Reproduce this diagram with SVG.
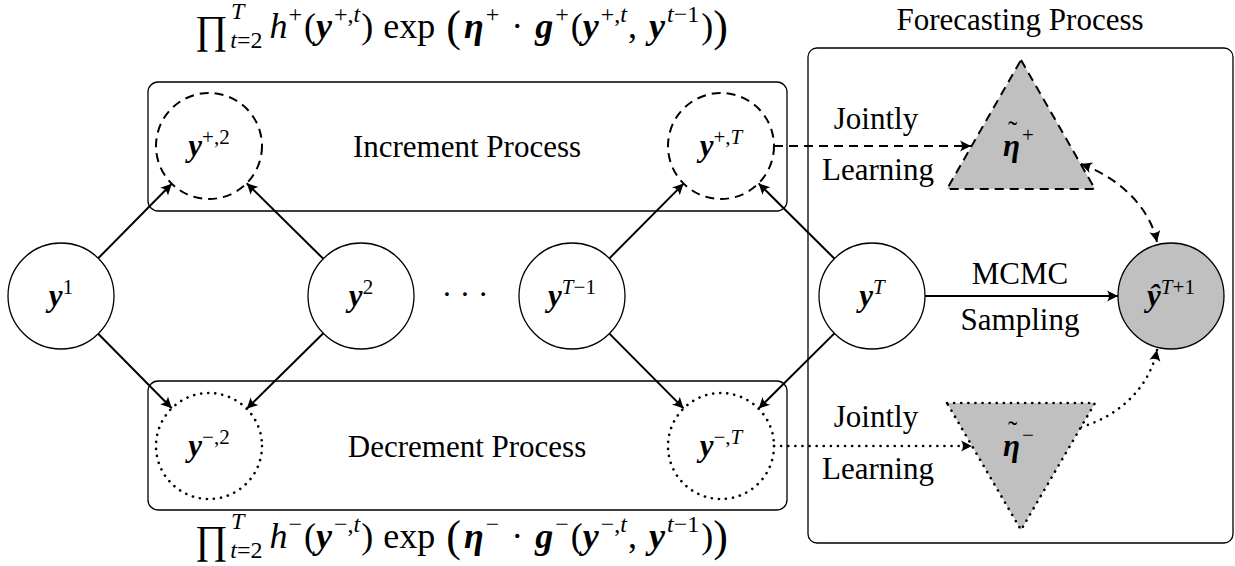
<svg xmlns="http://www.w3.org/2000/svg" width="1235" height="566" viewBox="0 0 1235 566">
<defs>
<style>
.t{font-family:"Liberation Serif","Times New Roman",serif;font-size:31px;fill:#000}
.f{font-size:36px}
.m{text-anchor:middle}
.b{font-weight:bold;font-style:italic}
.i{font-style:italic}
.s{font-size:21px}
.fs{font-size:24px}
.til{font-size:28px}
.box{fill:none;stroke:#000;stroke-width:1.3}
.node{fill:#fff;stroke:#000;stroke-width:1.3}
.gray{fill:#c0c0c0}
.dash{fill:none;stroke:#000;stroke-width:2;stroke-dasharray:9 6}
.dot{fill:none;stroke:#000;stroke-width:2.6;stroke-dasharray:0.1 7;stroke-linecap:round}
.edge{fill:none;stroke:#000;stroke-width:2}
</style>
<marker id="ah" markerUnits="userSpaceOnUse" markerWidth="14" markerHeight="14" viewBox="-12 -7 14 14" refX="0" refY="0" orient="auto-start-reverse">
<path d="M0,0 L-11,-5.5 Q-7,0 -11,5.5 Z" fill="#000"/>
</marker>
</defs>
<rect width="1235" height="566" fill="#fff"/>

<g id="increment-process">
<rect class="box" x="148" y="82" width="639" height="129" rx="10"/>
<text class="t m" x="467" y="157">Increment Process</text>
</g>
<g id="decrement-process">
<rect class="box" x="148" y="381" width="639" height="129" rx="10"/>
<text class="t m" x="467" y="457">Decrement Process</text>
</g>
<g id="forecasting-process">
<rect class="box" x="808" y="48" width="425" height="495" rx="9"/>
<text class="t m" x="1020" y="30">Forecasting Process</text>
</g>

<g id="formula-top">
<text class="t f" x="195" y="38"><tspan font-size="40" y="43">∏</tspan><tspan class="fs i" y="19" dx="3">T</tspan><tspan class="fs" y="48" dx="-14"><tspan class="i">t</tspan>=2</tspan><tspan class="i" y="38" dx="7">h</tspan><tspan class="fs" y="22" dx="1">+</tspan><tspan y="38" dx="2">(</tspan><tspan class="b">y</tspan><tspan class="fs" y="22" dx="2">+,<tspan class="i">t</tspan></tspan><tspan y="38" dx="1">)</tspan><tspan dx="10">exp</tspan><tspan font-size="44" y="41" dx="11">(</tspan><tspan class="b" y="38" dx="3">η</tspan><tspan class="fs" y="22" dx="2">+</tspan><tspan y="38" dx="12">·</tspan><tspan class="b" dx="12">g</tspan><tspan class="fs" y="22" dx="2">+</tspan><tspan y="38" dx="2">(</tspan><tspan class="b">y</tspan><tspan class="fs" y="22" dx="2">+,<tspan class="i">t</tspan></tspan><tspan y="38" dx="1">,</tspan><tspan class="b" dx="12">y</tspan><tspan class="fs" y="22" dx="2"><tspan class="i">t</tspan>−1</tspan><tspan y="38" dx="2">)</tspan><tspan font-size="44" y="41">)</tspan></text>
</g>
<g id="formula-bottom">
<text class="t f" x="195" y="548"><tspan font-size="40" y="553">∏</tspan><tspan class="fs i" y="529" dx="3">T</tspan><tspan class="fs" y="558" dx="-14"><tspan class="i">t</tspan>=2</tspan><tspan class="i" y="548" dx="7">h</tspan><tspan class="fs" y="532" dx="1">−</tspan><tspan y="548" dx="2">(</tspan><tspan class="b">y</tspan><tspan class="fs" y="532" dx="2">−,<tspan class="i">t</tspan></tspan><tspan y="548" dx="1">)</tspan><tspan dx="10">exp</tspan><tspan font-size="44" y="551" dx="11">(</tspan><tspan class="b" y="548" dx="3">η</tspan><tspan class="fs" y="532" dx="2">−</tspan><tspan y="548" dx="12">·</tspan><tspan class="b" dx="12">g</tspan><tspan class="fs" y="532" dx="2">−</tspan><tspan y="548" dx="2">(</tspan><tspan class="b">y</tspan><tspan class="fs" y="532" dx="2">−,<tspan class="i">t</tspan></tspan><tspan y="548" dx="1">,</tspan><tspan class="b" dx="12">y</tspan><tspan class="fs" y="532" dx="2"><tspan class="i">t</tspan>−1</tspan><tspan y="548" dx="2">)</tspan><tspan font-size="44" y="551">)</tspan></text>
</g>

<g id="connectors">
<line class="edge" x1="98.2" y1="258.3" x2="171.8" y2="183.7" marker-end="url(#ah)"/>
<line class="edge" x1="323.3" y1="258.8" x2="246.7" y2="183.2" marker-end="url(#ah)"/>
<line class="edge" x1="609.4" y1="258.4" x2="683.6" y2="183.6" marker-end="url(#ah)"/>
<line class="edge" x1="834.4" y1="258.6" x2="758.6" y2="183.4" marker-end="url(#ah)"/>
<line class="edge" x1="98.2" y1="333.7" x2="171.8" y2="408.3" marker-end="url(#ah)"/>
<line class="edge" x1="323.3" y1="333.2" x2="246.7" y2="408.8" marker-end="url(#ah)"/>
<line class="edge" x1="609.4" y1="333.6" x2="683.6" y2="408.4" marker-end="url(#ah)"/>
<line class="edge" x1="834.4" y1="333.4" x2="758.6" y2="408.6" marker-end="url(#ah)"/>
<line class="edge" x1="925" y1="296" x2="1118" y2="296" marker-end="url(#ah)"/>
<line class="dash" x1="774" y1="146" x2="971" y2="146" marker-end="url(#ah)"/>
<line class="dot" x1="774" y1="446" x2="972" y2="446" marker-end="url(#ah)"/>
<path class="dash" d="M1081,164 C1120,178 1150,208 1157,242" marker-start="url(#ah)" marker-end="url(#ah)"/>
<path class="dot" d="M1081,427 C1120,416 1150,386 1157,350" marker-end="url(#ah)"/>
<text class="t m" x="876" y="129">Jointly</text>
<text class="t m" x="878" y="180">Learning</text>
<text class="t m" x="876" y="427">Jointly</text>
<text class="t m" x="878" y="479">Learning</text>
<text class="t m" x="1020" y="284">MCMC</text>
<text class="t m" x="1020" y="330">Sampling</text>
</g>

<g id="node-y1">
<circle class="node" cx="61" cy="296" r="53"/>
<text class="t m" x="61" y="306"><tspan class="b">y</tspan><tspan class="s" dy="-12">1</tspan></text>
</g>
<g id="node-y2">
<circle class="node" cx="361" cy="296" r="53"/>
<text class="t m" x="361" y="306"><tspan class="b">y</tspan><tspan class="s" dy="-12">2</tspan></text>
</g>
<g id="dots">
<text class="t m" x="465" y="305">· · ·</text>
</g>
<g id="node-yTm1">
<circle class="node" cx="572" cy="296" r="53"/>
<text class="t m" x="572" y="306"><tspan class="b">y</tspan><tspan class="s" dy="-12"><tspan class="i">T</tspan>−1</tspan></text>
</g>
<g id="node-yT">
<circle class="node" cx="872" cy="296" r="53"/>
<text class="t m" x="872" y="306"><tspan class="b">y</tspan><tspan class="s i" dy="-12">T</tspan></text>
</g>
<g id="node-yhat">
<circle class="node gray" cx="1171" cy="296" r="53"/>
<text class="t m" x="1171" y="306"><tspan class="b">ŷ</tspan><tspan class="s" dy="-12"><tspan class="i">T</tspan>+1</tspan></text>
</g>
<g id="node-yp2">
<circle class="dash" cx="209" cy="146" r="53"/>
<text class="t m" x="209" y="156"><tspan class="b">y</tspan><tspan class="s" dy="-12">+,2</tspan></text>
</g>
<g id="node-ypT">
<circle class="dash" cx="721" cy="146" r="53"/>
<text class="t m" x="721" y="156"><tspan class="b">y</tspan><tspan class="s" dy="-12">+,<tspan class="i">T</tspan></tspan></text>
</g>
<g id="node-ym2">
<circle class="dot" cx="209" cy="446" r="53"/>
<text class="t m" x="209" y="456"><tspan class="b">y</tspan><tspan class="s" dy="-12">−,2</tspan></text>
</g>
<g id="node-ymT">
<circle class="dot" cx="721" cy="446" r="53"/>
<text class="t m" x="721" y="456"><tspan class="b">y</tspan><tspan class="s" dy="-12">−,<tspan class="i">T</tspan></tspan></text>
</g>
<g id="node-eta-plus">
<polygon class="gray" points="1021,60 1095,189 947,189"/>
<polygon class="dash" points="1021,60 1095,189 947,189"/>
<text class="t" x="1003" y="156"><tspan class="b">η</tspan><tspan class="s" dy="-14" dx="2">+</tspan><tspan class="til" x="1008" y="140">˜</tspan></text>
</g>
<g id="node-eta-minus">
<polygon class="gray" points="947,403 1095,403 1021,530"/>
<polygon class="dot" points="947,403 1095,403 1021,530"/>
<text class="t" x="1003" y="456"><tspan class="b">η</tspan><tspan class="s" dy="-14" dx="2">−</tspan><tspan class="til" x="1008" y="440">˜</tspan></text>
</g>
</svg>
